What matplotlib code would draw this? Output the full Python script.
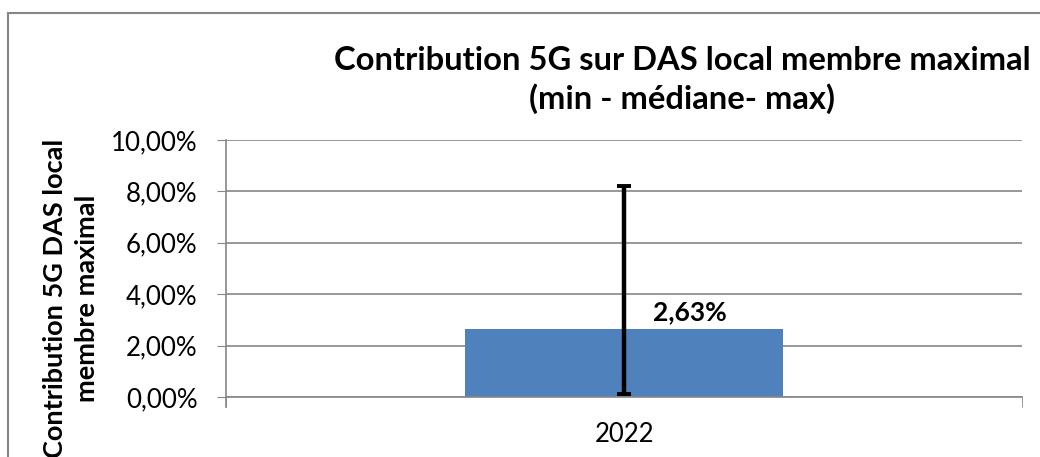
import matplotlib.pyplot as plt
from matplotlib.patches import Rectangle

# Données
categories = ['2022']
mediane = [2.63]
minimum = [0.1]
maximum = [8.2]
yticks = [0, 2, 4, 6, 8, 10]

plt.rcParams['font.family'] = ['Lato', 'DejaVu Sans']

fig = plt.figure(figsize=(10.4, 4.57), dpi=100)
ax = fig.add_axes([226 / 1040, 1 - 397 / 457, (1022 - 226) / 1040, (397 - 140) / 457])

x = list(range(len(categories)))
err_bas = [m - lo for m, lo in zip(mediane, minimum)]
err_haut = [hi - m for m, hi in zip(mediane, maximum)]

# Barre + barre d'erreur (min - médiane - max)
ax.bar(x, mediane, width=0.4, color='#4F81BD', zorder=2)
ax.errorbar(x, mediane, yerr=[err_bas, err_haut], fmt='none', ecolor='black',
            elinewidth=3.2, capsize=4.7, capthick=2.8, zorder=3)

# Étiquette de la valeur
for xi, m in zip(x, mediane):
    ax.annotate(f'{m:.2f}%'.replace('.', ','), (xi, m), xytext=(47.5, 12.5),
                textcoords='offset points', ha='center', va='center',
                fontsize=19, fontweight='bold',
                bbox=dict(facecolor='white', edgecolor='none', pad=3), zorder=4)

ax.set_xlim(-0.5, len(categories) - 0.5)
ax.set_ylim(0, 10)
ax.set_yticks(yticks)
ax.set_yticklabels([f'{v:.2f}%'.replace('.', ',') for v in yticks], fontsize=18.6)
ax.set_xticks(x)
ax.set_xticklabels(categories, fontsize=18.5)
ax.set_xticks([-0.5, len(categories) - 0.5], minor=True)
ax.tick_params(axis='x', which='major', length=0, pad=18)
ax.tick_params(axis='x', which='minor', length=7, color='#868686')
ax.tick_params(axis='y', length=6.5, color='#868686', pad=14)
ax.grid(axis='y', color='#868686', linewidth=1.2, zorder=0)
ax.set_axisbelow(True)
for s in ['top', 'right']:
    ax.spines[s].set_visible(False)
for s in ['left', 'bottom']:
    ax.spines[s].set_color('#868686')
    ax.spines[s].set_linewidth(1.2)
ax.spines['left'].set_bounds(-0.4, 10)

# Titre
fig.text(682 / 1040, 1 - 80 / 457, 'Contribution 5G sur DAS local membre maximal\n(min - médiane- max)',
         ha='center', va='center', fontsize=23.6, fontweight='bold', linespacing=1.35)

# Titre de l'axe Y
fig.text(71 / 1040, 1 - 298 / 457, 'Contribution 5G DAS local\nmembre maximal',
         ha='center', va='center', rotation=90, fontsize=19.5, fontweight='bold', linespacing=1.4)

# Cadre du graphique
fig.patches.append(Rectangle((8 / 1040, -0.1), 1.2, 1 - 13 / 457 + 0.1, transform=fig.transFigure,
                             fill=False, edgecolor='#868686', linewidth=1.5, zorder=10))

fig.savefig('out.png', dpi=100)
